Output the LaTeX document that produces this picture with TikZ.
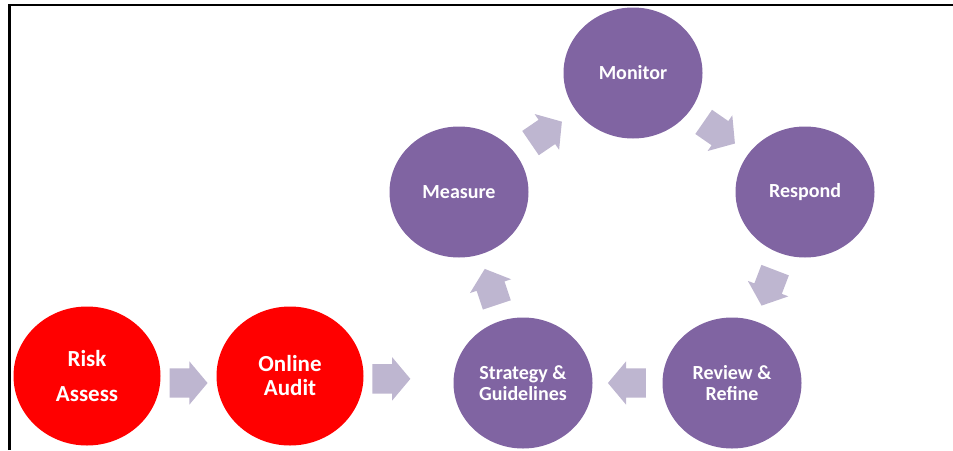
\documentclass[tikz,border=0pt]{standalone}
\usepackage{fontspec}
\setmainfont{Carlito}
\usepackage{xcolor}
\usetikzlibrary{shapes.geometric, shapes.arrows}

\definecolor{cyclepurple}{RGB}{128,100,162}
\definecolor{flowlavender}{RGB}{190,182,208}
\definecolor{startred}{RGB}{255,0,0}

\begin{document}
\begin{tikzpicture}[x=1pt, y=-1pt,
    stage/.style={ellipse, fill=cyclepurple, text=white, align=center,
        minimum width=139, minimum height=131, inner sep=0pt,
        font=\bfseries\fontsize{20}{21.5}\selectfont},
    start/.style={stage, fill=startred, minimum width=147, minimum height=139,
        font=\bfseries\fontsize{23}{24}\selectfont},
    flow/.style={single arrow, fill=flowlavender, draw=none,
        inner xsep=0pt, inner ysep=14.5pt,
        minimum height=38, minimum width=43, single arrow head extend=7,
        single arrow tip angle=100, single arrow head indent=0pt}]

\useasboundingbox (0,0) rectangle (953,450);

% Page frame
\draw[line width=2.5pt] (9.5,450) -- (9.5,5) -- (953,5);

% Starting steps
\node[start] (risk) at (87,376) {Risk\\[11pt]Assess};
\node[start] (audit) at (290,376) {Online\\Audit};

% Review cycle
\node[stage] (monitor) at (633,73) {Monitor};
\node[stage] (measure) at (459,192) {Measure};
\node[stage] (respond) at (805,192) {Respond};
\node[stage] (strategy) at (523,383) {Strategy \&\\Guidelines};
\node[stage] (review) at (732,383) {Review \&\\Refine};

% Arrows into the cycle
\path (risk) -- node[flow, pos=0.39, yshift=-7pt] {} (audit);
\path (audit) -- node[flow, pos=0.24] {} (strategy);

% Arrows round the cycle
\foreach \from/\to in {strategy/measure, measure/monitor, monitor/respond,
                       respond/review, review/strategy} {
    \path (\from) -- node[flow, pos=0.42, sloped, allow upside down] {} (\to);
}

\end{tikzpicture}
\end{document}
